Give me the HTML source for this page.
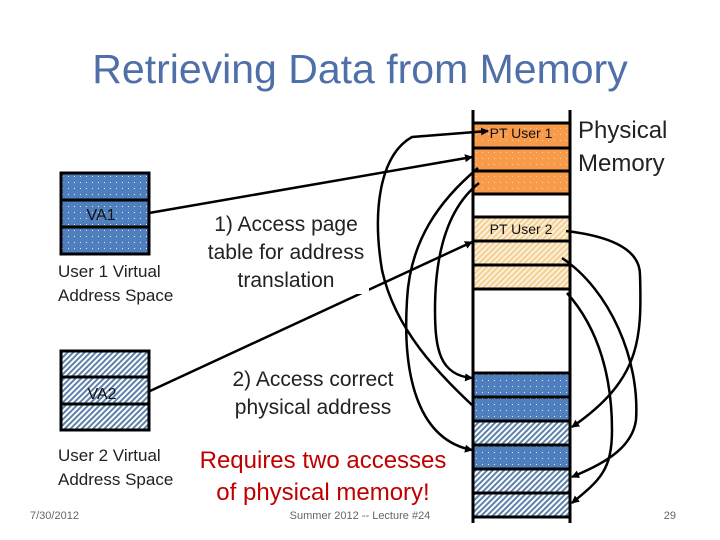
<!DOCTYPE html>
<html><head><meta charset="utf-8"><style>
html,body{margin:0;padding:0;background:#fff;}
body{width:720px;height:540px;overflow:hidden;position:relative;font-family:"Liberation Sans",sans-serif;}
</style></head><body>
<svg width="720" height="540" viewBox="0 0 720 540" xmlns="http://www.w3.org/2000/svg" style="position:absolute;left:0;top:0">
<defs>
<pattern id="dotB" width="6" height="6" patternUnits="userSpaceOnUse"><rect width="6" height="6" fill="#4f7fbc"/><rect x="2" y="2" width="1" height="1" fill="#dde8f5"/></pattern>
<pattern id="dotO" width="6" height="6" patternUnits="userSpaceOnUse"><rect width="6" height="6" fill="#f79a4a"/><rect x="2" y="2" width="1" height="1" fill="#fbd2a8"/></pattern>
<pattern id="hatB" width="4" height="4" patternUnits="userSpaceOnUse" patternTransform="rotate(45)"><rect width="4" height="4" fill="#ffffff"/><rect width="2" height="4" fill="#5d82aa"/></pattern>
<pattern id="hatT" width="4" height="4" patternUnits="userSpaceOnUse" patternTransform="rotate(45)"><rect width="4" height="4" fill="#fdf1dc"/><rect width="2" height="4" fill="#f3cf92"/></pattern>
<marker id="ah" markerWidth="8" markerHeight="8" refX="7" refY="4" orient="auto" markerUnits="userSpaceOnUse"><path d="M0,0 L8,4 L0,8 z" fill="#000"/></marker>
</defs>
<text x="360" y="83" text-anchor="middle" font-size="41" fill="#4f6fa8">Retrieving Data from Memory</text>

<g stroke="#000" stroke-width="3">
<rect x="61" y="173" width="88" height="27" fill="url(#dotB)"/>
<rect x="61" y="200" width="88" height="27" fill="url(#dotB)"/>
<rect x="61" y="227" width="88" height="27" fill="url(#dotB)"/>
<rect x="61" y="351" width="88" height="26" fill="url(#hatB)"/>
<rect x="61" y="377" width="88" height="27" fill="url(#hatB)"/>
<rect x="61" y="404" width="88" height="26" fill="url(#hatB)"/>
</g>
<text x="101" y="220" text-anchor="middle" font-size="16" fill="#111">VA1</text>
<text x="102" y="399" text-anchor="middle" font-size="16" fill="#111">VA2</text>
<text x="58" y="277" font-size="17" fill="#222">User 1 Virtual</text>
<text x="58" y="301" font-size="17" fill="#222">Address Space</text>
<text x="58" y="461" font-size="17" fill="#222">User 2 Virtual</text>
<text x="58" y="485" font-size="17" fill="#222">Address Space</text>

<g stroke="#000" stroke-width="3">
<rect x="473" y="123" width="97" height="25" fill="url(#dotO)"/>
<rect x="473" y="148" width="97" height="23" fill="url(#dotO)"/>
<rect x="473" y="171" width="97" height="23" fill="url(#dotO)"/>
<rect x="473" y="217" width="97" height="24" fill="url(#hatT)"/>
<rect x="473" y="241" width="97" height="24" fill="url(#hatT)"/>
<rect x="473" y="265" width="97" height="24" fill="url(#hatT)"/>
<rect x="473" y="373" width="97" height="24" fill="url(#dotB)"/>
<rect x="473" y="397" width="97" height="24" fill="url(#dotB)"/>
<rect x="473" y="421" width="97" height="24" fill="url(#hatB)"/>
<rect x="473" y="445" width="97" height="24" fill="url(#dotB)"/>
<rect x="473" y="469" width="97" height="24" fill="url(#hatB)"/>
<rect x="473" y="493" width="97" height="24" fill="url(#hatB)"/>
<line x1="473" y1="110" x2="473" y2="523"/>
<line x1="570" y1="110" x2="570" y2="523"/>
</g>
<text x="521" y="138" text-anchor="middle" font-size="14" fill="#111">PT User 1</text>
<text x="521" y="234" text-anchor="middle" font-size="14" fill="#111">PT User 2</text>
<text x="578" y="138" font-size="24" fill="#222">Physical</text>
<text x="578" y="171" font-size="24" fill="#222">Memory</text>

<g fill="none" stroke="#000" stroke-width="2.5">
<line x1="149" y1="213" x2="472" y2="157" marker-end="url(#ah)"/>
<line x1="150" y1="391" x2="472" y2="242" marker-end="url(#ah)"/>
<path d="M472,405 C440,375 395,330 382,270 C372,210 380,155 412,137 L488,131" marker-end="url(#ah)"/>
<path d="M478,168 C440,200 410,240 407,300 C402,380 420,440 472,450" marker-end="url(#ah)"/>
<path d="M479,183 C445,210 435,260 435,310 C435,350 440,375 472,378" marker-end="url(#ah)"/>
<path d="M566,231 C600,235 640,245 640,275 C642,340 640,380 572,427" marker-end="url(#ah)"/>
<path d="M562,258 C610,290 640,360 636,420 C632,450 600,465 572,477" marker-end="url(#ah)"/>
<path d="M567,293 C600,330 612,380 612,430 C612,470 600,480 572,503" marker-end="url(#ah)"/>
</g>

<g font-size="21" fill="#222" text-anchor="middle">
<rect x="203" y="210" width="166" height="84" fill="#fff"/>
<text x="286" y="231">1)  Access page</text>
<text x="286" y="259">table for address</text>
<text x="286" y="287">translation</text>
<rect x="225" y="366" width="174" height="54" fill="#fff"/>
<text x="313" y="386">2)  Access correct</text>
<text x="313" y="414">physical address</text>
</g>
<text x="323" y="468" text-anchor="middle" font-size="24" fill="#c00000">Requires two accesses</text>
<text x="323" y="500" text-anchor="middle" font-size="24" fill="#c00000">of physical memory!</text>
<text x="30" y="519" font-size="11" fill="#666">7/30/2012</text>
<text x="360" y="519" text-anchor="middle" font-size="11" fill="#666">Summer 2012 -- Lecture #24</text>
<text x="676" y="519" text-anchor="end" font-size="11" fill="#666">29</text>
</svg>
</body></html>
